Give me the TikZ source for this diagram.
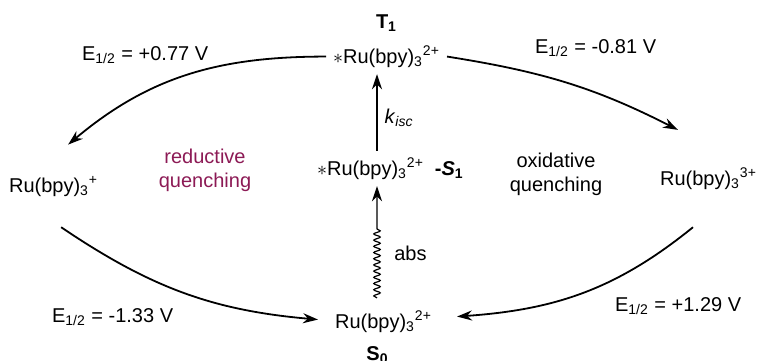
\documentclass[tikz,border=0pt]{standalone}
\usepackage{fontspec}
\setmainfont{Liberation Sans}
\usepackage{tikz}
\usetikzlibrary{arrows.meta,positioning,calc,decorations.pathmorphing}
\definecolor{QuenchPurple}{HTML}{8C1A55}
\tikzset{
  species/.style={anchor=base west},
  potential/.style={anchor=base west},
  quench/.style={align=center},
  arrow/.style={-{Stealth[length=7.5pt,width=5pt]},line width=0.9pt},
  wavy/.style={line width=0.6pt,decorate,decoration={snake,amplitude=1.6pt,segment length=3.1pt,post length=21pt}},
}
\newcommand{\rubpy}[1]{Ru(bpy)\textsubscript{3}\textsuperscript{#1}}

\begin{document}
\begin{tikzpicture}[x=0.5pt,y=0.5pt]
  \useasboundingbox (0,0) rectangle (759,360);

  % Ru species
  \node[species] (ts) at (326,297) {$\ast$\rubpy{2+}};
  \node[font=\bfseries, above=0pt of ts] (t1) {T\textsubscript{1}};
  \node[species] (ms) at (310,185) {$\ast$\rubpy{2+}\hspace{0.55em}\textbf{-\textit{S}\textsubscript{1}}};
  \node[species] (rm) at (2,168) {\rubpy{+}};
  \node[species] (rp) at (653,175) {\rubpy{3+}};
  \node[species] (bs) at (328,32) {\rubpy{2+}};
  \node[font=\bfseries, below=0pt of bs, xshift=-3pt] (s0) {S\textsubscript{0}};

  % Potentials
  \node[potential] (etl) at (75,300) {E\textsubscript{1/2} = +0.77 V};
  \node[potential] (etr) at (528,307) {E\textsubscript{1/2} = -0.81 V};
  \node[potential] (ebl) at (45,38) {E\textsubscript{1/2} = -1.33 V};
  \node[potential] (ebr) at (608,49) {E\textsubscript{1/2} = +1.29 V};

  % Quenching cycles
  \node[quench, text=QuenchPurple] (redq) at (205,190) {reductive\\quenching};
  \node[quench] (oxq) at (556,186) {oxidative\\quenching};

  \coordinate (axis) at (377,0);

  % Excitation and intersystem crossing
  \draw[arrow] (ms.north -| axis) -- node[right,pos=0.43]{\textit{k}\textsubscript{\textit{isc}}} (ts.south -| axis);
  \draw[arrow,wavy] ($(bs.north -| axis)+(0,6)$) -- node[right=5pt,pos=0.4]{abs} (ms.south -| axis);

  % Electron transfer arrows
  \draw[arrow] (ts.west) to[out=180,in=40] ([shift={(14.5,25)}]rm.north);
  \draw[arrow] (ts.east) to[out=-9,in=153] ([shift={(-30.5,31)}]rp.north);
  \draw[arrow] ([shift={(7.5,-24)}]rm.south) to[out=-34,in=175] ([shift={(-10,2)}]bs.west);
  \draw[arrow] ([shift={(-15.5,-31)}]rp.south) to[out=219,in=4] ([shift={(18,5)}]bs.east);
\end{tikzpicture}
\end{document}
